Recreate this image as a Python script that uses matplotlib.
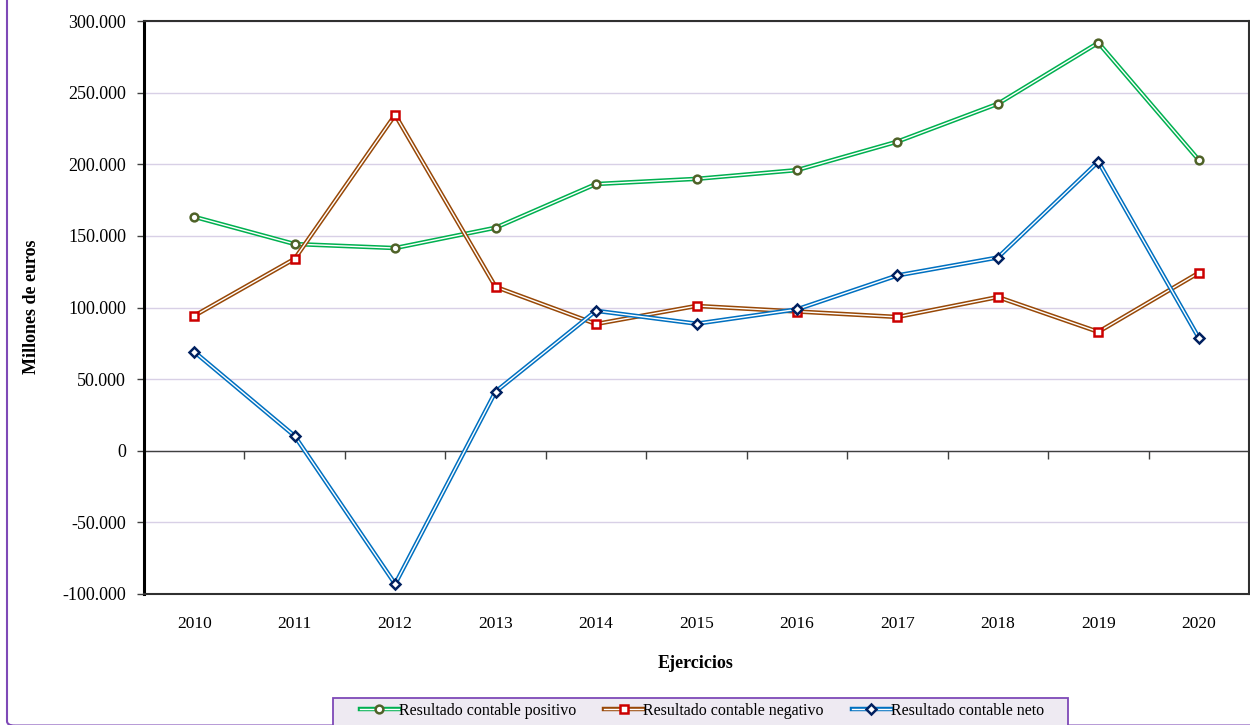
import matplotlib
matplotlib.use("Agg")
import matplotlib.pyplot as plt
from matplotlib.lines import Line2D
from matplotlib.patches import FancyBboxPatch, Rectangle
from matplotlib.legend_handler import HandlerTuple
from matplotlib.ticker import FuncFormatter, MultipleLocator
import numpy as np

# datos (millones de euros)
ejercicios = ["2010", "2011", "2012", "2013", "2014", "2015",
              "2016", "2017", "2018", "2019", "2020"]
positivo = [163300, 144300, 141500, 155700, 186200, 189800,
            195900, 215800, 242200, 284800, 203000]
negativo = [94200, 134000, 234500, 114400, 88500, 101100,
            97200, 93400, 107300, 83000, 124200]
neto = [69100, 10300, -93000, 41300, 97700, 88700,
        98700, 122400, 134900, 201800, 78800]

nombres = ["Resultado contable positivo", "Resultado contable negativo",
           "Resultado contable neto"]
colores_linea = ["#00B050", "#984807", "#0070C0"]
colores_marca = ["#4F6228", "#CC0000", "#002060"]
marcas = ["o", "s", "D"]
tamanos = [5.6, 5.1, 4.7]

plt.rcParams["font.family"] = ["Liberation Serif", "DejaVu Serif"]

fig = plt.figure(figsize=(12.5, 7.25), dpi=100)
ax = fig.add_axes([144 / 1250, 1 - 594 / 725, 1105 / 1250, 573 / 725])

x = np.arange(len(ejercicios))

# cuadricula y eje del cero
ax.set_ylim(-100000, 300000)
ax.set_xlim(-0.5, len(ejercicios) - 0.5)
ax.yaxis.set_major_locator(MultipleLocator(50000))
ax.set_axisbelow(True)
ax.grid(axis="y", color="#D8D0E6", lw=1.0)
ax.axhline(0, color="#404040", lw=1.0, zorder=1)
limites = np.arange(len(ejercicios) - 1) + 0.5
ax.plot(limites, np.zeros(len(limites)), ls="none", marker=3,
        markersize=6, markeredgewidth=1.0, color="#404040", zorder=1,
        clip_on=False)

handles = []
for serie, nombre, cl, cm, mk, ms in zip([positivo, negativo, neto], nombres,
                                          colores_linea, colores_marca,
                                          marcas, tamanos):
    ax.plot(x, serie, color=cl, lw=3.2, solid_joinstyle="miter", zorder=3)
    ax.plot(x, serie, color="white", lw=1.0, solid_joinstyle="miter", zorder=3)
    ax.plot(x, serie, ls="none", marker=mk, markersize=ms,
            markerfacecolor="white", markeredgecolor=cm,
            markeredgewidth=1.8, zorder=4, clip_on=False)
    h = (Line2D([], [], color=cl, lw=3.2),
         Line2D([], [], color="white", lw=1.0),
         Line2D([], [], ls="none", marker=mk, markersize=ms,
                markerfacecolor="white", markeredgecolor=cm,
                markeredgewidth=1.8))
    handles.append(h)

ax.set_xticks(x)
ax.set_xticklabels(ejercicios, fontsize=12.5)
ax.tick_params(axis="x", length=0, pad=16)
ax.tick_params(axis="y", length=5, width=1.0, pad=8, labelsize=13,
               color="#404040")
ax.yaxis.set_major_formatter(
    FuncFormatter(lambda v, p: "{:,.0f}".format(v).replace(",", ".")))

for lado in ["top", "right", "bottom"]:
    ax.spines[lado].set_color("#303030")
    ax.spines[lado].set_linewidth(1.5)
ax.spines["left"].set_color("black")
ax.spines["left"].set_linewidth(2.2)

fig.text(32 / 1250, 1 - 307 / 725, "Millones de euros", rotation=90,
         ha="center", va="center", fontsize=13, fontweight="bold")
fig.text(696 / 1250, 1 - 664 / 725, "Ejercicios", ha="center",
         va="center", fontsize=13, fontweight="bold")

# marco exterior
marco = FancyBboxPatch((7 / 1250, -0.5 / 725), 1.5, 1.5,
                       boxstyle="round,pad=0,rounding_size=0.006",
                       transform=fig.transFigure, facecolor="none",
                       edgecolor="#7E49B7", lw=1.5, clip_on=False)
fig.patches.append(marco)

# caja de la leyenda
caja = Rectangle((333 / 1250, -0.05), 735 / 1250, 0.05 + 1 - 698 / 725,
                 transform=fig.transFigure, facecolor="#EEEAF2",
                 edgecolor="#7E49B7", lw=1.3, clip_on=False)
fig.patches.append(caja)

leg = fig.legend(handles, nombres, loc="center",
                 bbox_to_anchor=(702 / 1250, 1 - 711 / 725), ncol=3,
                 fontsize=11.5, frameon=False,
                 handler_map={tuple: HandlerTuple(ndivide=1, pad=0)},
                 handlelength=2.45, handletextpad=0.0, columnspacing=1.75,
                 borderaxespad=0, borderpad=0)

fig.savefig("out.png", dpi=100)
